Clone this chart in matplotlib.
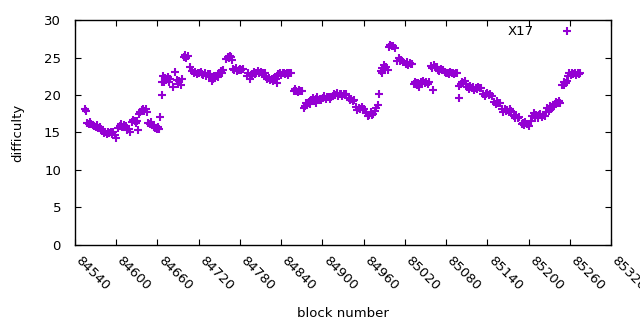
import matplotlib
matplotlib.use("Agg")
import matplotlib.pyplot as plt
import matplotlib.transforms as mtransforms

# block number / difficulty pairs
blocks = [
    84555, 84556, 84558, 84560, 84562, 84564, 84566, 84568, 84570, 84572, 84574, 84576, 84578,
    84580, 84582, 84584, 84586, 84588, 84590, 84592, 84594, 84596, 84599, 84600,
    84603, 84605, 84607, 84609, 84611, 84613, 84615, 84616, 84618, 84620,
    84623, 84625, 84627, 84629, 84631, 84632, 84633,
    84635, 84637, 84639, 84641, 84643, 84645,
    84647, 84649, 84651, 84653, 84655, 84657, 84659, 84661, 84663, 84664, 84666,
    84667, 84668, 84669, 84671, 84673, 84675, 84677, 84679, 84683, 84686, 84688, 84690, 84692, 84694, 84696,
    84698, 84700, 84702, 84704, 84708,
    84711, 84713, 84715, 84717, 84719, 84721, 84723, 84725,
    84727, 84729, 84731, 84733, 84735, 84737, 84740,
    84741, 84742, 84744, 84746, 84748, 84750, 84752, 84754, 84756,
    84760, 84762, 84764, 84766, 84767, 84768,
    84770, 84772, 84774, 84776, 84778, 84780, 84782, 84784,
    84790, 84792, 84794, 84796, 84798,
    84800, 84802, 84804, 84806, 84808, 84810, 84812, 84814, 84816,
    84818, 84820, 84822, 84824, 84826, 84828, 84830, 84832, 84834,
    84836, 84838, 84840, 84842, 84844, 84846, 84848, 84850, 84852, 84854,
    84858, 84860, 84862, 84864, 84866, 84868, 84870, 84873,
    84874, 84876, 84878, 84880, 84882,
    84884, 84886, 84888, 84890, 84891, 84892, 84894, 84896, 84898,
    84901, 84903, 84905, 84907, 84909, 84911, 84913,
    84915, 84917, 84919, 84921, 84923, 84925, 84927, 84929, 84931, 84933, 84935,
    84938, 84940, 84942, 84944, 84946,
    84949, 84951, 84953, 84955, 84957, 84959, 84961,
    84964, 84966, 84968, 84970, 84972, 84974,
    84976, 84978, 84981, 84983,
    84985, 84986, 84987, 84989, 84991, 84993, 84995,
    84997, 84999, 85001, 85003, 85005,
    85009, 85011, 85013, 85015, 85017,
    85021, 85023, 85025, 85027, 85029, 85031,
    85033, 85035, 85036, 85037, 85039, 85041, 85043, 85045, 85047, 85049, 85051, 85053, 85055,
    85058, 85060, 85061, 85062, 85064, 85066,
    85068, 85070, 85072, 85074, 85076,
    85078, 85080, 85082, 85084, 85086, 85088, 85090, 85092, 85094, 85096, 85098, 85099,
    85101, 85103, 85105, 85107, 85109,
    85111, 85113, 85115, 85117, 85119, 85121, 85123, 85125, 85127, 85129, 85131,
    85134, 85136, 85138, 85140, 85142, 85144, 85146,
    85150, 85152, 85154, 85156, 85158,
    85161, 85163, 85165, 85167, 85169, 85171, 85173, 85175,
    85178, 85180, 85182, 85184, 85186, 85190,
    85191, 85193, 85195, 85197, 85199, 85201, 85203,
    85205, 85207, 85209, 85211, 85213, 85215, 85217, 85219, 85221, 85223,
    85225, 85227, 85229, 85231, 85233, 85235,
    85238, 85240, 85242, 85244, 85246,
    85249, 85251, 85252, 85254, 85256,
    85257, 85259, 85261, 85263, 85265, 85267, 85269, 85271, 85273, 85275,
]
difficulty = [
    18.2, 17.9, 16.3, 16.1, 16.4, 16.2, 16.0, 15.9, 15.7, 16.0, 15.6, 15.8, 15.5,
    15.2, 14.9, 15.1, 14.8, 15.0, 14.9, 15.1, 14.8, 15.0, 14.6, 14.3,
    15.6, 15.9, 16.2, 15.8, 16.0, 15.7, 15.9, 15.3, 15.5, 15.1,
    16.4, 16.7, 16.5, 16.3, 16.6, 15.3, 17.5,
    17.7, 18.0, 18.2, 17.9, 18.1, 17.8,
    16.3, 16.1, 16.4, 16.0, 15.8, 15.6, 15.4, 15.7, 15.5, 17.1, 20.0,
    21.8, 22.6, 21.7, 22.3, 22.0, 22.4, 21.8, 22.2, 21.1, 23.1, 22.0, 21.5, 21.9, 21.3, 22.1,
    25.1, 25.4, 24.9, 25.2, 23.7,
    23.2, 22.9, 23.1, 22.8, 23.0, 22.9, 23.1, 22.8,
    22.7, 22.9, 22.6, 22.8, 22.6, 22.8, 21.9,
    22.2, 22.5, 22.3, 22.6, 22.4, 22.9, 23.2, 23.0, 23.3,
    24.8, 25.1, 24.9, 25.2, 25.1, 24.7,
    23.5, 23.3, 23.6, 23.2, 23.4, 23.5, 23.3, 23.5,
    22.6, 22.9, 22.1, 22.5, 22.8,
    23.1, 22.8, 23.0, 23.2, 22.9, 23.1, 22.8, 23.0, 22.9,
    22.4, 22.1, 22.3, 22.0, 22.2, 21.9, 22.3, 22.1, 21.6,
    22.8, 23.0, 22.7, 22.9, 23.0, 22.8, 22.9, 22.7, 23.0, 22.9,
    20.5, 20.8, 20.6, 20.4, 20.7, 20.5, 20.6, 18.3,
    18.6, 18.9, 18.7, 19.1, 18.8,
    19.3, 19.6, 19.2, 19.5, 18.9, 19.7, 19.3, 19.5, 19.4,
    19.6, 19.9, 19.5, 19.7, 19.8, 19.5, 19.7,
    19.9, 20.2, 20.0, 20.3, 19.9, 20.1, 20.2, 19.9, 20.1, 20.0, 20.2,
    19.6, 19.3, 19.5, 19.2, 19.4,
    18.4, 18.0, 18.3, 18.1, 18.4, 18.0, 18.2,
    17.6, 17.2, 17.4, 17.7, 17.3, 17.5,
    17.9, 18.3, 18.7, 20.1,
    23.2, 22.9, 23.6, 24.0, 23.5, 23.8, 23.4,
    26.4, 26.7, 26.5, 26.6, 26.3,
    24.6, 24.9, 24.5, 24.7, 24.4,
    24.2, 24.4, 24.0, 24.3, 24.1, 24.2,
    21.5, 21.8, 21.6, 21.4, 21.6, 21.1, 21.7, 21.5, 21.9, 21.6, 21.8, 21.5, 21.7,
    23.9, 23.6, 20.7, 24.0, 23.7, 23.8,
    23.4, 23.2, 23.5, 23.3, 23.4,
    23.1, 22.9, 23.0, 22.8, 23.1, 22.9, 23.0, 22.8, 23.0, 22.9, 19.6, 21.2,
    21.5, 21.8, 21.6, 21.9, 21.5,
    21.1, 20.8, 21.2, 20.9, 21.1, 20.7, 21.0, 20.8, 21.1, 20.9, 21.0,
    20.2, 19.9, 20.1, 20.3, 20.0, 20.2, 19.9,
    19.1, 18.8, 19.2, 18.9, 19.0,
    18.1, 17.8, 18.2, 17.9, 18.0, 17.8, 18.1, 17.9,
    17.2, 16.9, 17.3, 17.0, 17.1, 16.1,
    16.3, 16.0, 16.4, 16.1, 16.2, 15.9, 16.5,
    17.2, 17.6, 17.0, 17.4, 16.9, 17.3, 17.5, 17.1, 17.4, 17.2,
    17.8, 18.3, 17.9, 18.5, 18.1, 18.4,
    18.8, 19.1, 18.9, 19.2, 19.0,
    21.4, 21.8, 21.3, 21.6, 21.9,
    22.6, 22.9, 22.7, 23.0, 22.8, 22.9, 22.7, 22.9, 22.8, 22.9,
]
xticks = list(range(84540, 85321, 60))
yticks = [0, 5, 10, 15, 20, 25, 30]

plt.rcParams["font.family"] = ["DejaVu Sans"]
FS = 9.5

fig = plt.figure(figsize=(6.4, 3.3), dpi=100)
ax = fig.add_axes([0.117, 0.258, 0.838, 0.681])
ax.plot(blocks, difficulty, linestyle="none", marker="+", markersize=5.5,
        markeredgewidth=1.5, color="#9400d3", label="X17")

ax.set_xlim(84540, 85320)
ax.set_ylim(0, 30)
ax.set_xticks(xticks)
ax.set_yticks(yticks)
ax.set_xticklabels([str(t) for t in xticks], rotation=-45, ha="left", va="center",
                   rotation_mode="anchor")
ax.tick_params(direction="in", length=4, width=0.8, top=True, right=True,
               labelsize=FS)
ax.tick_params(axis="y", pad=10)
ax.tick_params(axis="x", pad=10)
# nudge the rotated labels so they start right at the tick, like gnuplot
shift = mtransforms.ScaledTranslation(2 / 72, 0, fig.dpi_scale_trans)
for lab in ax.get_xticklabels():
    lab.set_transform(lab.get_transform() + shift)
for s in ax.spines.values():
    s.set_linewidth(1.0)

ax.set_xlabel("block number", fontsize=FS, labelpad=10)
ax.set_ylabel("difficulty", fontsize=FS, labelpad=14)

ax.legend(loc="upper right", bbox_to_anchor=(0.946, 1.0), borderaxespad=0,
          markerfirst=False, frameon=False, fontsize=FS, handlelength=1.5,
          handletextpad=1.8)

fig.savefig("out.png", dpi=100)
